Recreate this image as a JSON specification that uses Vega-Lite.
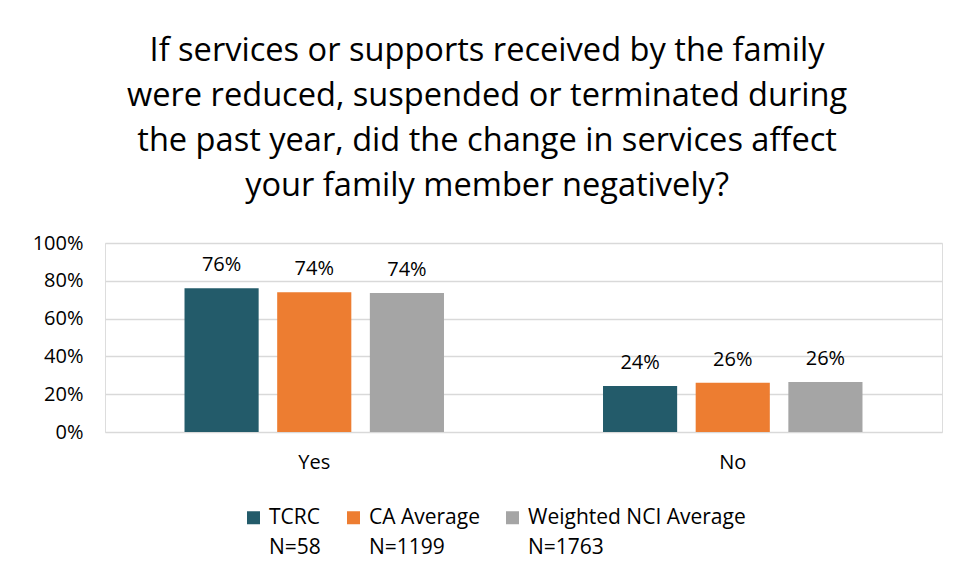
{
  "$schema": "https://vega.github.io/schema/vega-lite/v6.json",
  "width": 837,
  "height": 189,
  "autosize": {"type": "none"},
  "padding": {"left": 105, "top": 243, "right": 36, "bottom": 148},
  "background": "white",
  "config": {
    "style": {"guide-label": {"lineHeight": 30}}
  },
  "title": {
    "text": ["If services or supports received by the family", "were reduced, suspended or terminated during", "the past year, did the change in services affect", "your family member negatively?"],
    "font": "Open Sans",
    "fontSize": 32.6,
    "fontWeight": "normal",
    "color": "#000000",
    "lineHeight": 45,
    "anchor": "middle",
    "frame": "bounds",
    "offset": 30
  },
  "data": {
    "values": [
      {"answer": "Yes", "group": "TCRC|N=58", "value": 0.76, "label": "76%"},
      {"answer": "Yes", "group": "CA Average|N=1199", "value": 0.74, "label": "74%"},
      {"answer": "Yes", "group": "Weighted NCI Average|N=1763", "value": 0.735, "label": "74%"},
      {"answer": "No", "group": "TCRC|N=58", "value": 0.243, "label": "24%"},
      {"answer": "No", "group": "CA Average|N=1199", "value": 0.261, "label": "26%"},
      {"answer": "No", "group": "Weighted NCI Average|N=1763", "value": 0.265, "label": "26%"}
    ]
  },
  "encoding": {
    "x": {
      "field": "answer",
      "type": "nominal",
      "sort": ["Yes", "No"],
      "scale": {"paddingInner": 0.38, "paddingOuter": 0.19},
      "axis": {
        "title": null,
        "labelAngle": 0,
        "labelFont": "Open Sans",
        "labelFontSize": 20,
        "labelColor": "#000000",
        "labelPadding": 20,
        "ticks": false,
        "domain": false
      }
    },
    "xOffset": {
      "field": "group",
      "type": "nominal",
      "sort": ["TCRC|N=58", "CA Average|N=1199", "Weighted NCI Average|N=1763"],
      "scale": {"paddingInner": 0.2, "paddingOuter": 0}
    },
    "y": {
      "field": "value",
      "type": "quantitative",
      "scale": {"domain": [0, 1]},
      "axis": {
        "title": null,
        "format": ".0%",
        "values": [0, 0.2, 0.4, 0.6, 0.8, 1],
        "labelFont": "Open Sans",
        "labelFontSize": 20,
        "labelColor": "#000000",
        "labelPadding": 22,
        "ticks": false,
        "domain": false,
        "grid": true,
        "gridColor": "#d9d9d9",
        "gridWidth": 1.5
      }
    }
  },
  "layer": [
    {
      "mark": {"type": "bar"},
      "encoding": {
        "color": {
          "field": "group",
          "type": "nominal",
          "sort": ["TCRC|N=58", "CA Average|N=1199", "Weighted NCI Average|N=1763"],
          "scale": {"range": ["#235B6A", "#ED7D31", "#A5A5A5"]},
          "legend": {
            "title": null,
            "orient": "none",
            "legendX": 138,
            "legendY": 264,
            "padding": 0,
            "direction": "horizontal",
            "labelExpr": "split(datum.label, '|')",
            "labelFont": "Open Sans",
            "labelFontSize": 21,
            "labelColor": "#000000",
            "labelBaseline": "middle",
            "labelOffset": 5,
            "labelLimit": 400,
            "symbolType": "square",
            "symbolSize": 169,
            "symbolStrokeWidth": 0,
            "columnPadding": 22
          }
        }
      }
    },
    {
      "mark": {"type": "text", "dy": -13, "font": "Open Sans", "fontSize": 20, "color": "#000000", "baseline": "bottom"},
      "encoding": {
        "text": {"field": "label"}
      }
    }
  ]
}
